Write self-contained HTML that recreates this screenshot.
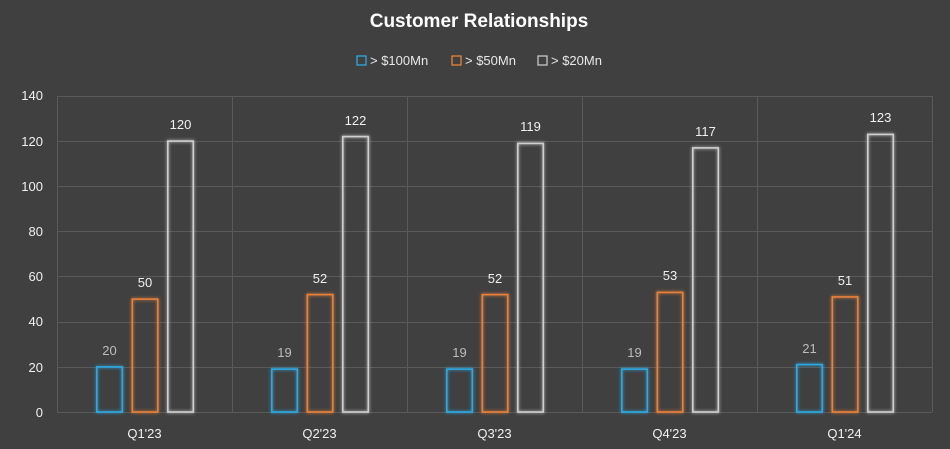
<!DOCTYPE html>
<html><head><style>
body{margin:0;background:#404040;}
svg{display:block;font-family:"Liberation Sans",sans-serif;}
</style></head><body>
<svg width="950" height="449" viewBox="0 0 950 449">
<defs><filter id="g" x="-50%" y="-20%" width="200%" height="140%"><feGaussianBlur stdDeviation="1.5" result="b"/><feMerge><feMergeNode in="b"/><feMergeNode in="SourceGraphic"/></feMerge></filter></defs>
<rect width="950" height="449" fill="#404040"/>
<text x="479" y="27" text-anchor="middle" font-size="19" font-weight="bold" fill="#fff">Customer Relationships</text>
<g font-size="13" fill="#e8e8e8">
<rect x="357" y="56" width="9" height="9" fill="none" stroke="#2fa8e0" stroke-width="1.3"/><text x="370" y="65">&gt; $100Mn</text>
<rect x="452" y="56" width="9" height="9" fill="none" stroke="#e8813a" stroke-width="1.3"/><text x="465" y="65">&gt; $50Mn</text>
<rect x="538" y="56" width="9" height="9" fill="none" stroke="#c8c8c8" stroke-width="1.3"/><text x="551" y="65">&gt; $20Mn</text>
</g>
<g stroke="#5a5a5a" stroke-width="1">
<line x1="57" y1="96.5" x2="932" y2="96.5"/><line x1="57" y1="141.5" x2="932" y2="141.5"/><line x1="57" y1="186.5" x2="932" y2="186.5"/><line x1="57" y1="231.5" x2="932" y2="231.5"/><line x1="57" y1="276.5" x2="932" y2="276.5"/><line x1="57" y1="322.5" x2="932" y2="322.5"/><line x1="57" y1="367.5" x2="932" y2="367.5"/><line x1="57" y1="412.5" x2="932" y2="412.5"/>
<line x1="57.5" y1="96" x2="57.5" y2="412"/><line x1="232.5" y1="96" x2="232.5" y2="412"/><line x1="407.5" y1="96" x2="407.5" y2="412"/><line x1="582.5" y1="96" x2="582.5" y2="412"/><line x1="757.5" y1="96" x2="757.5" y2="412"/><line x1="932.5" y1="96" x2="932.5" y2="412"/>
</g>
<g font-size="13" fill="#f0f0f0" text-anchor="end">
<text x="43" y="100">140</text><text x="43" y="146">120</text><text x="43" y="191">100</text><text x="43" y="236">80</text><text x="43" y="281">60</text><text x="43" y="326">40</text><text x="43" y="372">20</text><text x="43" y="417">0</text>
</g>
<g fill="none" stroke-width="1.6" filter="url(#g)">
<g stroke="#2fa8e0">
<rect x="96.8" y="366.9" width="25.5" height="45.1"/>
<rect x="271.8" y="369.1" width="25.5" height="42.9"/>
<rect x="446.8" y="369.1" width="25.5" height="42.9"/>
<rect x="621.8" y="369.1" width="25.5" height="42.9"/>
<rect x="796.8" y="364.6" width="25.5" height="47.4"/>
</g>
<g stroke="#e8813a">
<rect x="132.3" y="299.1" width="25.5" height="112.9"/>
<rect x="307.3" y="294.6" width="25.5" height="117.4"/>
<rect x="482.3" y="294.6" width="25.5" height="117.4"/>
<rect x="657.3" y="292.4" width="25.5" height="119.6"/>
<rect x="832.3" y="296.9" width="25.5" height="115.1"/>
</g>
<g stroke="#cfcfcf">
<rect x="167.8" y="141.1" width="25.5" height="270.9"/>
<rect x="342.8" y="136.6" width="25.5" height="275.4"/>
<rect x="517.8" y="143.4" width="25.5" height="268.6"/>
<rect x="692.8" y="147.9" width="25.5" height="264.1"/>
<rect x="867.8" y="134.4" width="25.5" height="277.6"/>
</g>
</g>
<g font-size="13" text-anchor="middle">
<g fill="#bdbdbd">
<text x="109.5" y="355">20</text><text x="284.5" y="357">19</text><text x="459.5" y="357">19</text><text x="634.5" y="357">19</text><text x="809.5" y="353">21</text>
</g>
<g fill="#f0f0f0">
<text x="145" y="287">50</text><text x="320" y="283">52</text><text x="495" y="283">52</text><text x="670" y="280">53</text><text x="845" y="285">51</text>
<text x="180.5" y="129">120</text><text x="355.5" y="125">122</text><text x="530.5" y="131">119</text><text x="705.5" y="136">117</text><text x="880.5" y="122">123</text>
<text x="144.5" y="438">Q1'23</text><text x="319.5" y="438">Q2'23</text><text x="494.5" y="438">Q3'23</text><text x="669.5" y="438">Q4'23</text><text x="844.5" y="438">Q1'24</text>
</g>
</g>
</svg>
</body></html>
